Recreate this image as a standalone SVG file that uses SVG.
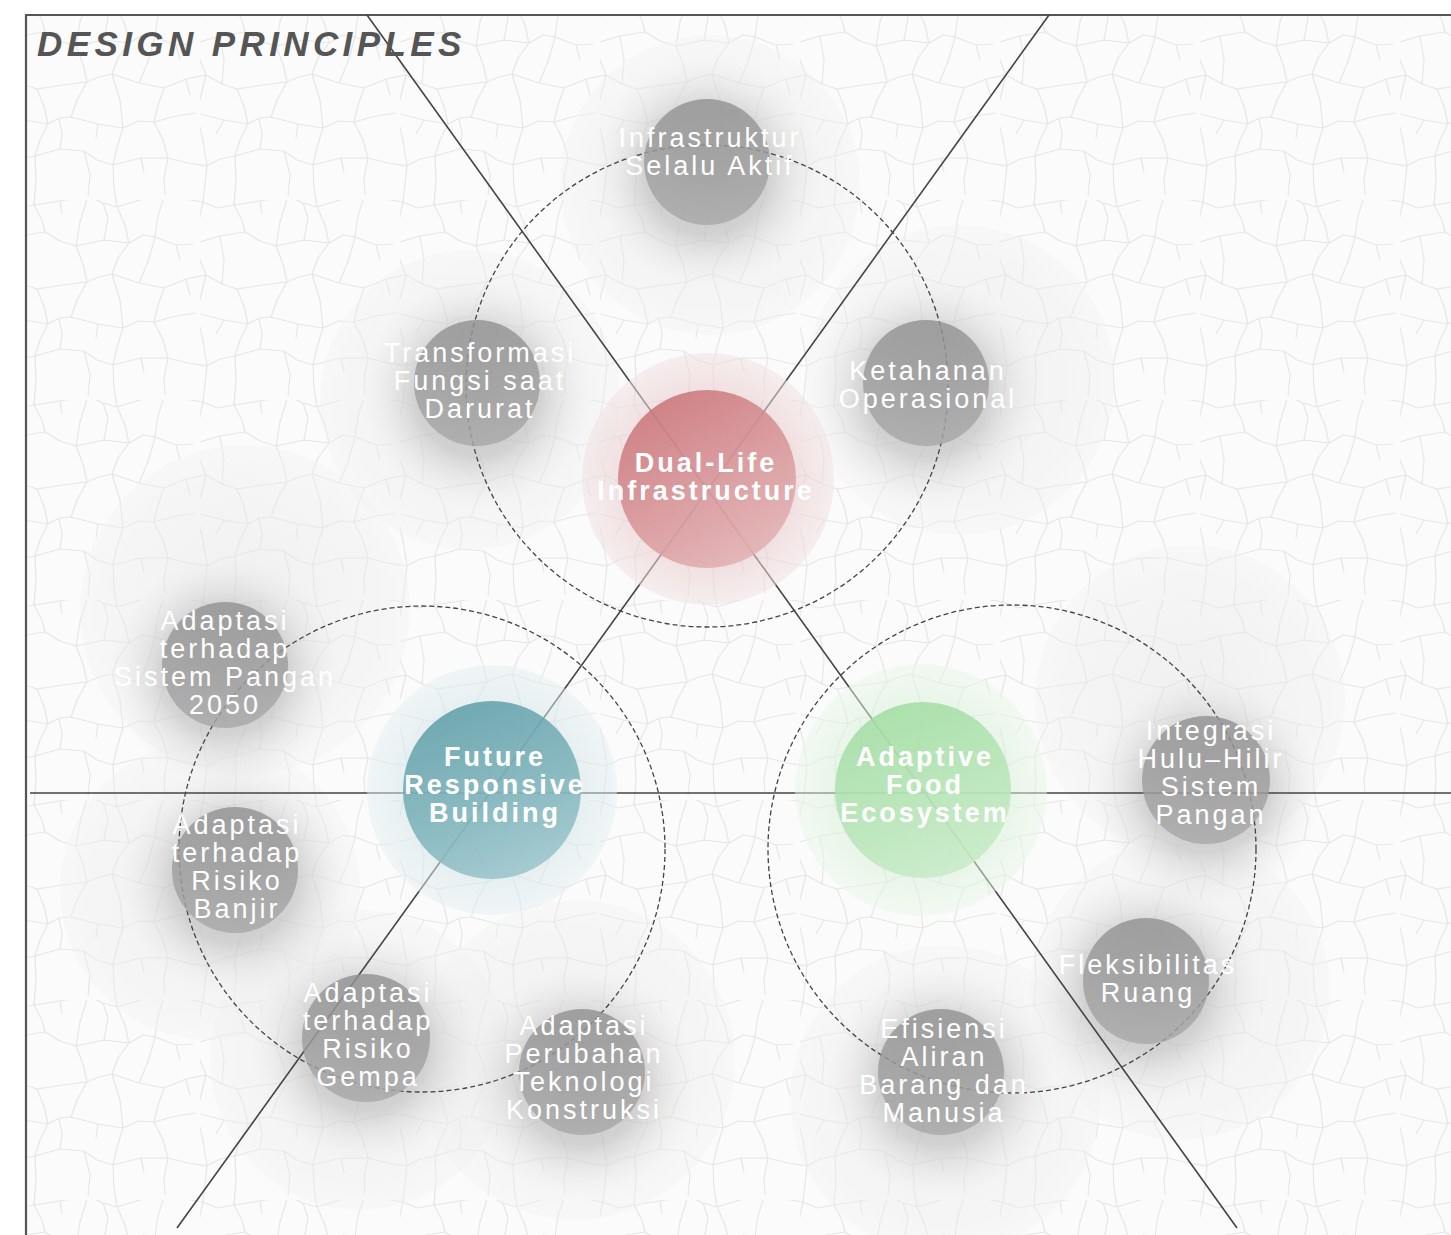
<svg xmlns="http://www.w3.org/2000/svg" xmlns:xlink="http://www.w3.org/1999/xlink" width="1451" height="1235" viewBox="0 0 1451 1235">
  <style>
    .frame { fill: none; stroke: #555; stroke-width: 2.2; }
    .axis { stroke: #444; stroke-width: 1.6; fill: none; }
    .ring { fill: none; stroke: #444; stroke-width: 1.3; stroke-dasharray: 5 3; }
    .title { font-family: "Liberation Sans", Arial, sans-serif; font-size: 35px; font-weight: bold; font-style: italic; letter-spacing: 4.4px; fill: #555; }
    .sub { font-family: "Liberation Sans", Arial, sans-serif; font-size: 27px; letter-spacing: 3px; fill: #fff; text-anchor: middle; }
    .main { font-family: "Liberation Sans", Arial, sans-serif; font-size: 27px; font-weight: bold; letter-spacing: 3px; fill: #fff; text-anchor: middle; }
    .crack { fill: none; stroke: #e6e6e6; stroke-width: 1.2; stroke-linejoin: round; }
    .disc { fill: url(#discFill); }
    .glow { fill: url(#glowFill); }
    .dot { fill: url(#dotFill); opacity: 0.82; }
  </style>
  <defs>
    <!-- crackle network, one periodic tile -->
    <g id="cells">
      <path class="crack" d="M3,2 L18,8 L34,5 L60,1 L88,-4 L103,3 L117,7 L140,0 L165,-6 L185,-1 L203,2
        M-7,44 L20,36 L45,32 L60,41 L76,46 L104,40 L129,43 L143,35 L155,37 L176,45 L193,44
        M6,75 L22,84 L37,89 L63,85 L87,82 L99,77 L112,74 L139,83 L164,88 L186,79 L206,75
        M-4,113 L24,120 L48,124 L59,118 L71,117 L98,124 L123,128 L139,121 L154,122 L176,116 L196,113
        M7,166 L20,159 L35,156 L60,149 L84,151 L97,160 L113,165 L141,158 L168,158 L188,163 L207,166
        M3,2 L-2,24 L-7,44 L0,60 L6,75 L1,95 L-4,113 L3,140 L7,166 L5,184 L3,202
        M34,5 L42,20 L45,32 M37,89 L44,106 L48,124 L40,140 L35,156 L36,180 L34,205
        M88,-4 L80,22 L76,46 L83,64 L87,82 L77,100 L71,117 M84,151 L90,175 L88,196
        M117,7 L125,25 L129,43 L118,58 L112,74 L120,100 L123,128 L117,147 L113,165 L114,188 L117,207
        M165,-6 L158,16 L155,37 M164,88 L158,105 L154,122 L163,140 L168,158 L164,178 L165,194
        M20,36 L24,60 L22,84 M155,37 L148,62 L139,83 M103,3 L108,18 L104,40 M60,149 L62,134 L59,118
        M98,124 L96,138 M60,1 L62,14 M186,79 L190,95 M24,120 L16,134 M141,158 L144,172 M176,45 L180,60"/>
    </g>
    <pattern id="crackle" width="200" height="200" patternUnits="userSpaceOnUse">
      <use href="#cells"/>
      <use href="#cells" x="-200"/>
      <use href="#cells" y="-200"/>
      <use href="#cells" x="-200" y="-200"/>
    </pattern>

    <radialGradient id="discFill">
      <stop offset="0" stop-color="#e4e4e4" stop-opacity="0.5"/>
      <stop offset="0.8" stop-color="#ececec" stop-opacity="0.4"/>
      <stop offset="1" stop-color="#f1f1f1" stop-opacity="0.35"/>
    </radialGradient>
    <radialGradient id="glowFill">
      <stop offset="0" stop-color="#969696" stop-opacity="0.6"/>
      <stop offset="0.55" stop-color="#a6a6a6" stop-opacity="0.42"/>
      <stop offset="0.8" stop-color="#cacaca" stop-opacity="0.2"/>
      <stop offset="1" stop-color="#e0e0e0" stop-opacity="0"/>
    </radialGradient>
    <linearGradient id="dotFill" x1="0" y1="0" x2="0" y2="1">
      <stop offset="0" stop-color="#929292"/>
      <stop offset="1" stop-color="#a9a9a9"/>
    </linearGradient>

    <radialGradient id="redHalo">
      <stop offset="0.6" stop-color="#e7c6c8" stop-opacity="0.75"/>
      <stop offset="1" stop-color="#f1e1e2" stop-opacity="0.65"/>
    </radialGradient>
    <linearGradient id="redFill" x1="0.2" y1="0" x2="0.8" y2="1">
      <stop offset="0" stop-color="#c86e73"/>
      <stop offset="0.6" stop-color="#d9999c"/>
      <stop offset="1" stop-color="#e4b4b6"/>
    </linearGradient>
    <radialGradient id="tealHalo">
      <stop offset="0.6" stop-color="#cfe2e5" stop-opacity="0.7"/>
      <stop offset="1" stop-color="#e4eff1" stop-opacity="0.6"/>
    </radialGradient>
    <linearGradient id="tealFill" x1="0.3" y1="0" x2="0.7" y2="1">
      <stop offset="0" stop-color="#5b9ca6"/>
      <stop offset="0.6" stop-color="#7eb3bb"/>
      <stop offset="1" stop-color="#9cc6cc"/>
    </linearGradient>
    <radialGradient id="greenHalo">
      <stop offset="0.6" stop-color="#d6efd6" stop-opacity="0.7"/>
      <stop offset="1" stop-color="#e8f6e8" stop-opacity="0.6"/>
    </radialGradient>
    <linearGradient id="greenFill" x1="0.3" y1="0" x2="0.7" y2="1">
      <stop offset="0" stop-color="#9fdca0"/>
      <stop offset="0.6" stop-color="#b7e5b7"/>
      <stop offset="1" stop-color="#c9ebc9"/>
    </linearGradient>
  </defs>

  <!-- paper -->
  <rect width="1451" height="1235" fill="#ffffff"/>
  <rect x="26" y="15" width="1425" height="1220" fill="#fbfbfb"/>
  <rect x="26" y="15" width="1425" height="1220" fill="url(#crackle)"/>

  <!-- soft halos behind the principle dots -->
  <g id="halos">
    <circle class="disc" cx="710" cy="185" r="150"/>
    <circle class="disc" cx="470" cy="400" r="150"/>
    <circle class="disc" cx="960" cy="380" r="155"/>
    <circle class="disc" cx="245" cy="610" r="165"/>
    <circle class="disc" cx="210" cy="890" r="150"/>
    <circle class="disc" cx="360" cy="1060" r="150"/>
    <circle class="disc" cx="575" cy="1060" r="160"/>
    <circle class="disc" cx="945" cy="1100" r="155"/>
    <circle class="disc" cx="1180" cy="990" r="150"/>
    <circle class="disc" cx="1190" cy="700" r="155"/>
    <circle class="glow" cx="707" cy="172" r="115"/>
    <circle class="glow" cx="477" cy="393" r="115"/>
    <circle class="glow" cx="926" cy="393" r="115"/>
    <circle class="glow" cx="225" cy="672" r="115"/>
    <circle class="glow" cx="235" cy="880" r="115"/>
    <circle class="glow" cx="366" cy="1048" r="115"/>
    <circle class="glow" cx="582" cy="1082" r="115"/>
    <circle class="glow" cx="941" cy="1082" r="115"/>
    <circle class="glow" cx="1146" cy="990" r="115"/>
    <circle class="glow" cx="1206" cy="790" r="115"/>
  </g>

  <!-- frame -->
  <path class="frame" d="M26,1235 V15 H1451"/>

  <!-- axes and dashed orbits -->
  <g id="connectors">
    <line class="axis" x1="367" y1="15" x2="1237" y2="1228"/>
    <line class="axis" x1="1049" y1="15" x2="177" y2="1228"/>
    <line class="axis" x1="30" y1="793" x2="1451" y2="793"/>
    <circle class="ring" cx="707" cy="386" r="241"/>
    <circle class="ring" cx="422" cy="849" r="243"/>
    <circle class="ring" cx="1012" cy="849" r="244"/>
  </g>

  <!-- core principles -->
  <g id="dual-life">
    <circle cx="708" cy="479" r="126" fill="url(#redHalo)" opacity="0.8"/>
    <circle cx="707" cy="479" r="89" fill="url(#redFill)" opacity="0.85"/>
    <text class="main"><tspan x="706" y="472">Dual-Life</tspan><tspan x="706" y="500">Infrastructure</tspan></text>
  </g>
  <g id="future-responsive">
    <circle cx="492" cy="790" r="125" fill="url(#tealHalo)" opacity="0.8"/>
    <circle cx="492" cy="790" r="89" fill="url(#tealFill)" opacity="0.85"/>
    <text class="main"><tspan x="495" y="766">Future</tspan><tspan x="495" y="794">Responsive</tspan><tspan x="495" y="822">Building</tspan></text>
  </g>
  <g id="adaptive-food">
    <circle cx="921" cy="790" r="126" fill="url(#greenHalo)" opacity="0.8"/>
    <circle cx="923" cy="790" r="88" fill="url(#greenFill)" opacity="0.85"/>
    <text class="main"><tspan x="925" y="766">Adaptive</tspan><tspan x="925" y="794">Food</tspan><tspan x="925" y="822">Ecosystem</tspan></text>
  </g>

  <!-- sub principles -->
  <g id="infrastruktur">
    <circle class="dot" cx="707" cy="162" r="63"/>
    <text class="sub"><tspan x="710" y="147">Infrastruktur</tspan><tspan x="710" y="175">Selalu Aktif</tspan></text>
  </g>
  <g id="transformasi">
    <circle class="dot" cx="477" cy="383" r="63"/>
    <text class="sub"><tspan x="480" y="362">Transformasi</tspan><tspan x="480" y="390">Fungsi saat</tspan><tspan x="480" y="418">Darurat</tspan></text>
  </g>
  <g id="ketahanan">
    <circle class="dot" cx="926" cy="383" r="63"/>
    <text class="sub"><tspan x="928" y="380">Ketahanan</tspan><tspan x="928" y="408">Operasional</tspan></text>
  </g>
  <g id="pangan-2050">
    <circle class="dot" cx="225" cy="665" r="63"/>
    <text class="sub"><tspan x="225" y="630">Adaptasi</tspan><tspan x="225" y="658">terhadap</tspan><tspan x="225" y="686">Sistem Pangan</tspan><tspan x="225" y="714">2050</tspan></text>
  </g>
  <g id="risiko-banjir">
    <circle class="dot" cx="235" cy="870" r="63"/>
    <text class="sub"><tspan x="237" y="834">Adaptasi</tspan><tspan x="237" y="862">terhadap</tspan><tspan x="237" y="890">Risiko</tspan><tspan x="237" y="918">Banjir</tspan></text>
  </g>
  <g id="risiko-gempa">
    <circle class="dot" cx="366" cy="1038" r="64"/>
    <text class="sub"><tspan x="368" y="1002">Adaptasi</tspan><tspan x="368" y="1030">terhadap</tspan><tspan x="368" y="1058">Risiko</tspan><tspan x="368" y="1086">Gempa</tspan></text>
  </g>
  <g id="teknologi-konstruksi">
    <circle class="dot" cx="582" cy="1072" r="63"/>
    <text class="sub"><tspan x="584" y="1035">Adaptasi</tspan><tspan x="584" y="1063">Perubahan</tspan><tspan x="584" y="1091">Teknologi</tspan><tspan x="584" y="1119">Konstruksi</tspan></text>
  </g>
  <g id="efisiensi-aliran">
    <circle class="dot" cx="941" cy="1072" r="63"/>
    <text class="sub"><tspan x="944" y="1038">Efisiensi</tspan><tspan x="944" y="1066">Aliran</tspan><tspan x="944" y="1094">Barang dan</tspan><tspan x="944" y="1122">Manusia</tspan></text>
  </g>
  <g id="fleksibilitas">
    <circle class="dot" cx="1146" cy="981" r="63"/>
    <text class="sub"><tspan x="1148" y="974">Fleksibilitas</tspan><tspan x="1148" y="1002">Ruang</tspan></text>
  </g>
  <g id="integrasi">
    <circle class="dot" cx="1206" cy="780" r="64"/>
    <text class="sub"><tspan x="1211" y="740">Integrasi</tspan><tspan x="1211" y="768">Hulu–Hilir</tspan><tspan x="1211" y="796">Sistem</tspan><tspan x="1211" y="824">Pangan</tspan></text>
  </g>

  <text class="title" x="37" y="56">DESIGN PRINCIPLES</text>
</svg>
